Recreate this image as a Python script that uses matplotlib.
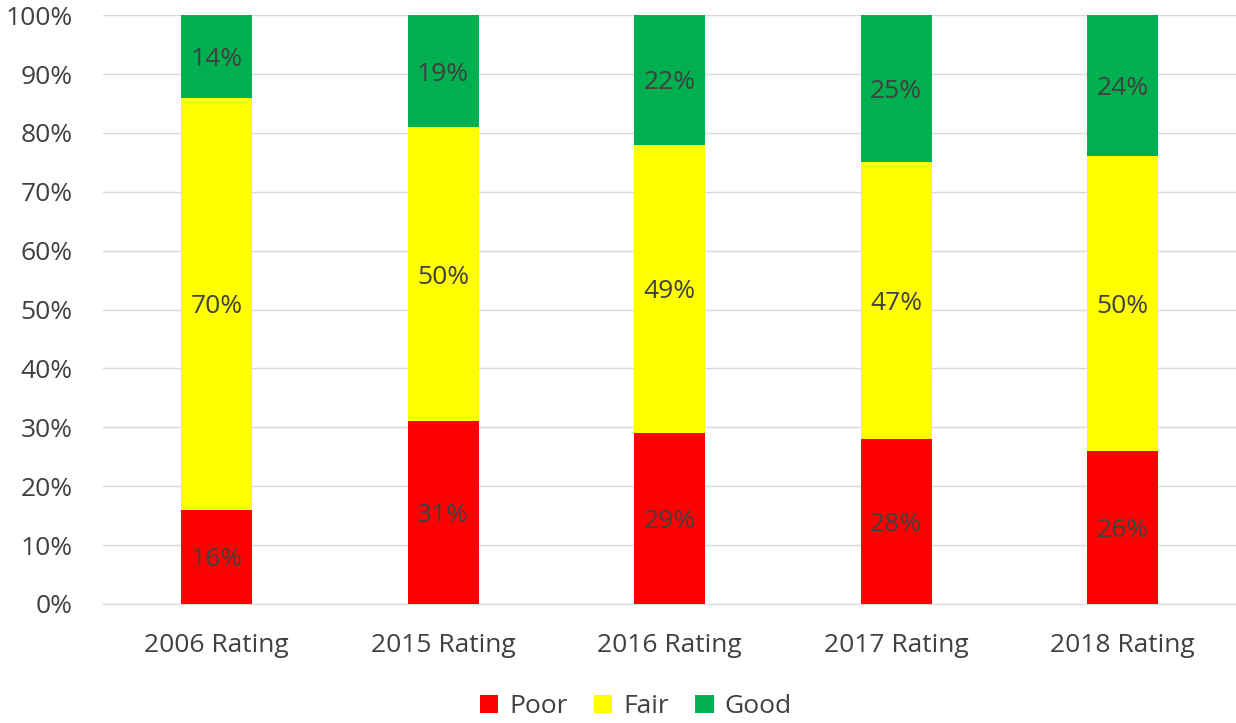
import numpy as np
import matplotlib.pyplot as plt

categories = ['2006 Rating', '2015 Rating', '2016 Rating', '2017 Rating', '2018 Rating']
poor = [16, 31, 29, 28, 26]
fair = [70, 50, 49, 47, 50]
good = [14, 19, 22, 25, 24]

colors = {'Poor': '#FF0000', 'Fair': '#FFFF00', 'Good': '#00B050'}
text_color = '#404040'

plt.rcParams['font.family'] = ['Open Sans', 'DejaVu Sans']

fig = plt.figure(figsize=(12.36, 7.23), dpi=100)
ax = fig.add_axes([0.0835, 0.1646, 0.9165, 0.8144])

x = np.arange(len(categories))
width = 0.313
bottom = np.zeros(len(categories))
for name, vals in [('Poor', poor), ('Fair', fair), ('Good', good)]:
    vals = np.array(vals)
    ax.bar(x, vals, width, bottom=bottom, color=colors[name], label=name, zorder=3)
    for xi, b, v in zip(x, bottom, vals):
        ax.text(xi, b + v / 2, f'{v}%', ha='center', va='center_baseline',
                fontsize=19, color=text_color, zorder=4)
    bottom += vals

ax.set_xlim(-0.5, len(categories) - 0.5)
ax.set_ylim(0, 100)
ax.set_yticks(np.arange(0, 101, 10))
ax.set_yticklabels([f'{t}%' for t in range(0, 101, 10)])
ax.set_xticks(x)
ax.set_xticklabels(categories)
ax.tick_params(axis='both', length=0, labelsize=19, labelcolor=text_color)
ax.tick_params(axis='y', pad=22)
ax.tick_params(axis='x', pad=21)
ax.grid(axis='y', color='#D9D9D9', linewidth=1, zorder=0)
for s in ['top', 'right', 'left']:
    ax.spines[s].set_visible(False)
ax.spines['bottom'].set_color('#D9D9D9')

ax.legend(loc='upper center', bbox_to_anchor=(0.47, -0.131), ncol=3, frameon=False,
          fontsize=19, labelcolor=text_color, handlelength=0.7, handleheight=0.7,
          handletextpad=0.4, columnspacing=1.0, borderaxespad=0.1)

fig.savefig('out.png', dpi=100)
